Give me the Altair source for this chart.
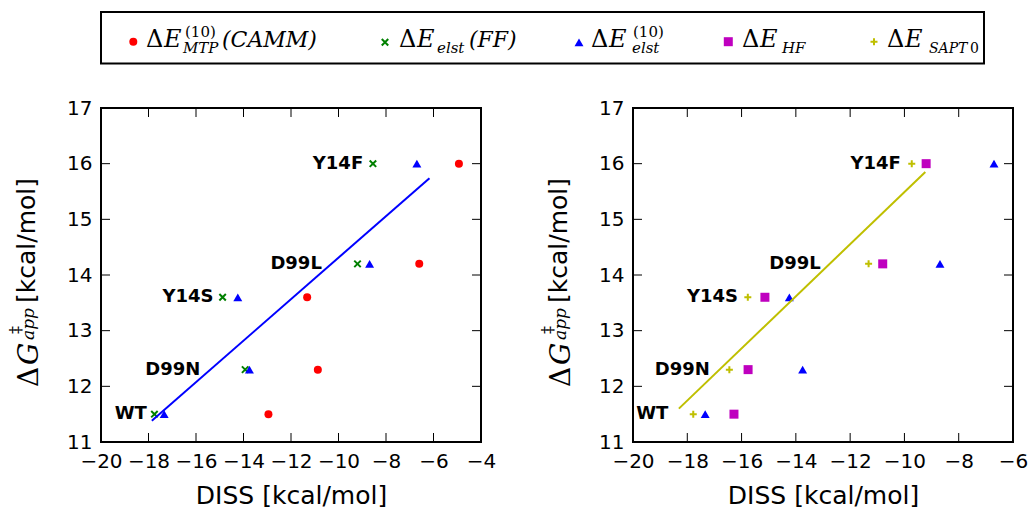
import altair as alt
import pandas as pd

# Mutants and their apparent activation free energies
mutants = ["WT", "D99N", "Y14S", "D99L", "Y14F"]
dg_app = [11.5, 12.3, 13.6, 14.2, 16.0]

# Dissociation energies (kcal/mol) from the different models
diss_camm = [-12.95, -10.87, -11.32, -6.60, -4.93]
diss_elst_ff = [-17.75, -13.93, -14.88, -9.20, -8.55]
diss_elst10 = [-17.34, -13.75, -14.24, -8.69, -6.70]
diss_hf = [-16.28, -15.76, -15.14, -10.80, -9.20]
diss_sapt0 = [-17.78, -16.45, -15.77, -11.32, -9.73]

# Where the mutant names sit along the DISS axis in each panel
label_x_left = [-18.07, -15.82, -15.26, -10.70, -8.96]
label_x_right = [-18.70, -17.17, -16.13, -13.08, -10.13]

# Trend line end points
fit_left_x = [-17.86, -6.17]
fit_left_y = [11.38, 15.74]
fit_right_x = [-18.31, -9.23]
fit_right_y = [11.60, 15.85]

x_ticks_left = [-20, -18, -16, -14, -12, -10, -8, -6, -4]
x_ticks_right = [-20, -18, -16, -14, -12, -10, -8, -6]
y_ticks = [11, 12, 13, 14, 15, 16, 17]

RED = "#ff0000"
GREEN = "#008000"
BLUE = "#0000ff"
MAGENTA = "#bf00bf"
OLIVE = "#bfbf00"
X_PATH = "M-1,-1L1,1M-1,1L1,-1"
PLUS_PATH = "M-1,0L1,0M0,-1L0,1"

PW = 380
PH = 334
GAP = 152
ORIGIN_X = 101
ORIGIN_Y = 108
TICK = 9

# marker styles: shape, colour, size, filled
STY_CAMM = ("circle", RED, 64, True)
STY_FF = (X_PATH, GREEN, 42, False)
STY_ELST = ("triangle-up", BLUE, 80, True)
STY_HF = ("square", MAGENTA, 81, True)
STY_SAPT = (PLUS_PATH, OLIVE, 49, False)

df = pd.DataFrame({
    "mutant": mutants,
    "dg": dg_app,
    "camm": diss_camm,
    "elst_ff": diss_elst_ff,
    "elst10": diss_elst10,
    "hf": diss_hf,
    "sapt0": diss_sapt0,
    "lx_left": label_x_left,
    "lx_right": label_x_right,
})
one = pd.DataFrame({"k": [0]})
yscale = alt.Scale(domain=[11, 17], nice=False, zero=False)
yaxis = alt.Axis(title=None, values=y_ticks, grid=False, domain=False, ticks=False,
                 labelFontSize=20, labelFont="DejaVu Sans", labelColor="black",
                 labelPadding=9, format="d")


def make_xaxis(ticks):
    return alt.Axis(title="DISS [kcal/mol]", values=ticks, grid=False, domain=False,
                    ticks=False, labelFontSize=20, labelFont="DejaVu Sans",
                    labelColor="black", labelPadding=9, labelFlush=False,
                    labelOverlap=False, format="d", titleFontSize=25,
                    titleFont="DejaVu Sans", titleFontWeight="normal",
                    titleColor="black", titlePadding=12)


def marker(chart, style):
    shape, color, size, filled = style
    if filled:
        return chart.mark_point(shape=shape, filled=True, size=size, color=color, opacity=1)
    return chart.mark_point(shape=shape, filled=False, size=size, color=color,
                            strokeWidth=2, opacity=1)


def panel(series, label_field, fit_x, fit_y, fit_color, x_max, ticks):
    xscale = alt.Scale(domain=[-20, x_max], nice=False, zero=False)
    xaxis = make_xaxis(ticks)
    layers = []
    for field, style in series:
        layers.append(
            marker(alt.Chart(df), style).encode(
                x=alt.X(f"{field}:Q", scale=xscale, axis=xaxis),
                y=alt.Y("dg:Q", scale=yscale, axis=yaxis),
            )
        )
    fit = pd.DataFrame({"x": fit_x, "y": fit_y})
    layers.append(
        alt.Chart(fit).mark_line(color=fit_color, strokeWidth=2).encode(
            x=alt.X("x:Q", scale=xscale, axis=xaxis),
            y=alt.Y("y:Q", scale=yscale, axis=yaxis),
        )
    )
    layers.append(
        alt.Chart(df).mark_text(font="DejaVu Sans", fontSize=18, fontWeight="bold",
                                align="right", baseline="middle", color="black").encode(
            x=alt.X(f"{label_field}:Q", scale=xscale, axis=xaxis),
            y=alt.Y("dg:Q", scale=yscale, axis=yaxis),
            text="mutant:N",
        )
    )
    # inward ticks on all four sides
    xt = pd.DataFrame({"v": ticks})
    yt = pd.DataFrame({"v": y_ticks})
    for y0, y1 in [(PH, PH - TICK), (0, TICK)]:
        layers.append(
            alt.Chart(xt).mark_rule(color="black", strokeWidth=1).encode(
                x=alt.X("v:Q", scale=xscale, axis=xaxis),
                y=alt.value(y0), y2=alt.value(y1),
            )
        )
    for x0, x1 in [(0, TICK), (PW, PW - TICK)]:
        layers.append(
            alt.Chart(yt).mark_rule(color="black", strokeWidth=1).encode(
                y=alt.Y("v:Q", scale=yscale, axis=yaxis),
                x=alt.value(x0), x2=alt.value(x1),
            )
        )
    return layers


def text_piece(txt, px, py, size, italic=False, font="DejaVu Serif", angle=0):
    """Text placed in page pixels, relative to the left panel's plot origin."""
    kw = dict(text=txt, font=font, fontSize=size, align="left",
              baseline="alphabetic", color="black")
    if italic:
        kw["fontStyle"] = "italic"
    if angle:
        kw["angle"] = angle
    return alt.Chart(one).mark_text(**kw).encode(
        x=alt.value(px - ORIGIN_X), y=alt.value(py - ORIGIN_Y))


def y_title():
    # rotated title: ΔG‡_app [kcal/mol]
    return [
        text_piece("Δ", 38, 387, 28, angle=270),
        text_piece("G", 38, 365, 28, italic=True, angle=270),
        text_piece("‡", 21, 334, 16, angle=270),
        text_piece("app", 34, 340, 17, italic=True, angle=270),
        text_piece("[kcal/mol]", 35, 303, 25, font="DejaVu Sans", angle=270),
    ]


def legend_layers():
    layers = [
        alt.Chart(one).mark_rect(fillOpacity=0, stroke="black", strokeWidth=2).encode(
            x=alt.value(101 - ORIGIN_X), x2=alt.value(984 - ORIGIN_X),
            y=alt.value(12 - ORIGIN_Y), y2=alt.value(63.5 - ORIGIN_Y),
        )
    ]
    symbols = [
        (133.3, 41.7, STY_CAMM),
        (385.0, 42.3, STY_FF),
        (579.0, 42.3, STY_ELST),
        (728.3, 41.7, STY_HF),
        (874.0, 41.7, STY_SAPT),
    ]
    for px, py, style in symbols:
        layers.append(marker(alt.Chart(one), style).encode(
            x=alt.value(px - ORIGIN_X), y=alt.value(py - ORIGIN_Y)))
    pieces = [
        ("Δ", 146, 47, 24, False), ("E", 164, 47, 24, True),
        ("(10)", 185, 37, 15, False), ("MTP", 183, 53, 15, True),
        ("(CAMM)", 222, 47, 22, True),
        ("Δ", 399, 47, 24, False), ("E", 417, 47, 24, True),
        ("elst", 437, 53, 15, True), ("(FF)", 469, 47, 22, True),
        ("Δ", 591, 47, 24, False), ("E", 609, 47, 24, True),
        ("(10)", 633, 37, 15, False), ("elst", 632, 53, 15, True),
        ("Δ", 742, 47, 24, False), ("E", 760, 47, 24, True),
        ("HF", 782, 53, 15, True),
        ("Δ", 887, 47, 24, False), ("E", 905, 47, 24, True),
        ("SAPT", 929, 53, 14, True), ("0", 970, 53, 14, False),
    ]
    for txt, px, py, size, italic in pieces:
        layers.append(text_piece(txt, px, py, size, italic))
    return layers


left_series = [
    ("camm", STY_CAMM),
    ("elst_ff", STY_FF),
    ("elst10", STY_ELST),
]
right_series = [
    ("sapt0", STY_SAPT),
    ("hf", STY_HF),
    ("elst10", STY_ELST),
]

left = alt.layer(
    *panel(left_series, "lx_left", fit_left_x, fit_left_y, BLUE, -4, x_ticks_left),
    *y_title(),
    *legend_layers(),
).properties(width=PW, height=PH)

right = alt.layer(
    *panel(right_series, "lx_right", fit_right_x, fit_right_y, OLIVE, -6, x_ticks_right),
    *y_title(),
).properties(width=PW, height=PH)

chart = alt.hconcat(left, right, spacing=GAP, bounds="flush").properties(
    autosize=alt.AutoSizeParams(type="none"),
    padding={"left": ORIGIN_X, "top": ORIGIN_Y,
             "right": 1033 - ORIGIN_X, "bottom": 513 - ORIGIN_Y},
    background="white",
).configure_view(stroke="black", strokeWidth=2)

chart.save("out.html", embed_options={"renderer": "svg", "actions": False})
